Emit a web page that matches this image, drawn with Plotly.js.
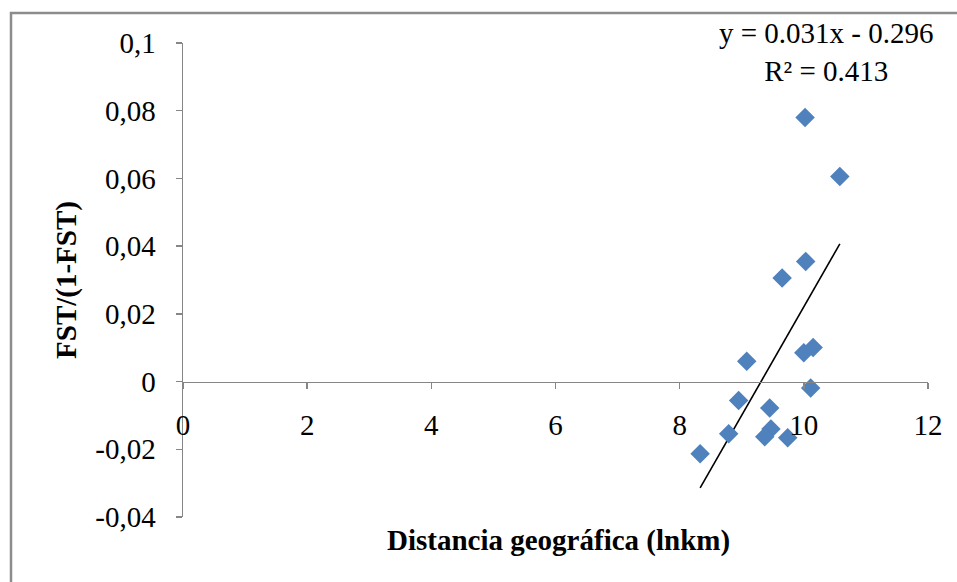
<!DOCTYPE html>
<html>
<head>
<meta charset="utf-8">
<script src="https://cdn.plot.ly/plotly-3.0.1.min.js"></script>
<style>
html,body{margin:0;padding:0;background:#fff;}
#chart{width:957px;height:582px;}
</style>
</head>
<body>
<div id="chart"></div>
<script>
// Data
const distLnKm = [10.02, 10.58, 10.03, 9.65, 9.08, 10.00, 10.15, 10.11, 8.95, 9.45, 8.79, 9.47, 9.37, 9.74, 8.33];
const fstRatio = [0.0780, 0.0606, 0.0355, 0.0306, 0.0060, 0.0085, 0.0101, -0.0019, -0.0056, -0.0078, -0.0154, -0.0140, -0.0163, -0.0166, -0.0213];
const xTickVals = [0, 2, 4, 6, 8, 10, 12];
const xTickText = ['0', '2', '4', '6', '8', '10', '12'];
const yTickVals = [-0.04, -0.02, 0, 0.02, 0.04, 0.06, 0.08, 0.1];
const yTickText = ['-0,04', '-0,02', '0', '0,02', '0,04', '0,06', '0,08', '0,1'];
const equationText = 'y = 0.031x - 0.296<br>R² = 0.413';
const xTitle = 'Distancia geográfica (lnkm)';
const yTitle = 'FST/(1-FST)';

// Least-squares trend line computed from the data
const n = distLnKm.length;
const mx = distLnKm.reduce((a, b) => a + b, 0) / n;
const my = fstRatio.reduce((a, b) => a + b, 0) / n;
let sxy = 0, sxx = 0;
for (let i = 0; i < n; i++) {
  sxy += (distLnKm[i] - mx) * (fstRatio[i] - my);
  sxx += (distLnKm[i] - mx) * (distLnKm[i] - mx);
}
const slope = sxy / sxx;
const intercept = my - slope * mx;
const xMin = Math.min(...distLnKm), xMax = Math.max(...distLnKm);
const trendX = [xMin, xMax];
const trendY = trendX.map(v => slope * v + intercept);

const font = 'Liberation Serif, Times New Roman, serif';
const fs = 29;
const axisGray = '#868686';

const traces = [
  {
    x: trendX, y: trendY, type: 'scatter', mode: 'lines',
    line: {color: '#000000', width: 1.6}, hoverinfo: 'skip', showlegend: false
  },
  {
    x: distLnKm, y: fstRatio, type: 'scatter', mode: 'markers',
    marker: {symbol: 'diamond', size: 15, color: '#4F81BD', line: {width: 0}},
    showlegend: false
  }
];

const yMin = -0.04, yMax = 0.1;
const layout = {
  width: 957, height: 582,
  margin: {l: 183, r: 29, t: 43, b: 65},
  paper_bgcolor: '#ffffff', plot_bgcolor: '#ffffff',
  font: {family: font, size: fs, color: '#000000'},
  showlegend: false,
  xaxis: {
    range: [0, 12], tickvals: xTickVals, ticktext: xTickText,
    showgrid: false, zeroline: false,
    showline: true, linecolor: axisGray, linewidth: 1.5,
    ticks: 'outside', ticklen: 6, tickcolor: axisGray, tickwidth: 1.5,
    anchor: 'free', position: (0 - yMin) / (yMax - yMin),
    ticklabelstandoff: 11,
    tickfont: {family: font, size: fs, color: '#000000'}
  },
  yaxis: {
    range: [yMin, yMax], tickvals: yTickVals, ticktext: yTickText,
    showgrid: false, zeroline: false,
    showline: true, linecolor: axisGray, linewidth: 1.5,
    ticks: 'outside', ticklen: 6, tickcolor: axisGray, tickwidth: 1.5,
    ticklabelstandoff: 14,
    tickfont: {family: font, size: fs, color: '#000000'},
    title: {text: '<b>' + yTitle + '</b>', font: {family: font, size: fs, color: '#000000'}, standoff: 10}
  },
  annotations: [
    {
      text: equationText, xref: 'paper', yref: 'paper',
      x: (826 - 183) / 745, y: 1 - (52 - 43) / 474,
      xanchor: 'center', yanchor: 'middle', align: 'center', showarrow: false,
      font: {family: font, size: fs, color: '#000000'}
    },
    {
      text: '<b>' + xTitle + '</b>', xref: 'paper', yref: 'paper',
      x: (558 - 183) / 745, y: -(540 - 517) / 474,
      xanchor: 'center', yanchor: 'middle', showarrow: false,
      font: {family: font, size: fs, color: '#000000'}
    }
  ],
  shapes: [
    {
      type: 'rect', xref: 'paper', yref: 'paper', layer: 'below',
      x0: (11 - 183) / 745, x1: 1.2, y0: -0.3, y1: 1 + (43 - 13) / 474,
      line: {color: '#8c8c8c', width: 2.5}, fillcolor: 'rgba(0,0,0,0)'
    }
  ]
};

Plotly.newPlot('chart', traces, layout, {displayModeBar: false, staticPlot: true});
</script>
</body>
</html>
